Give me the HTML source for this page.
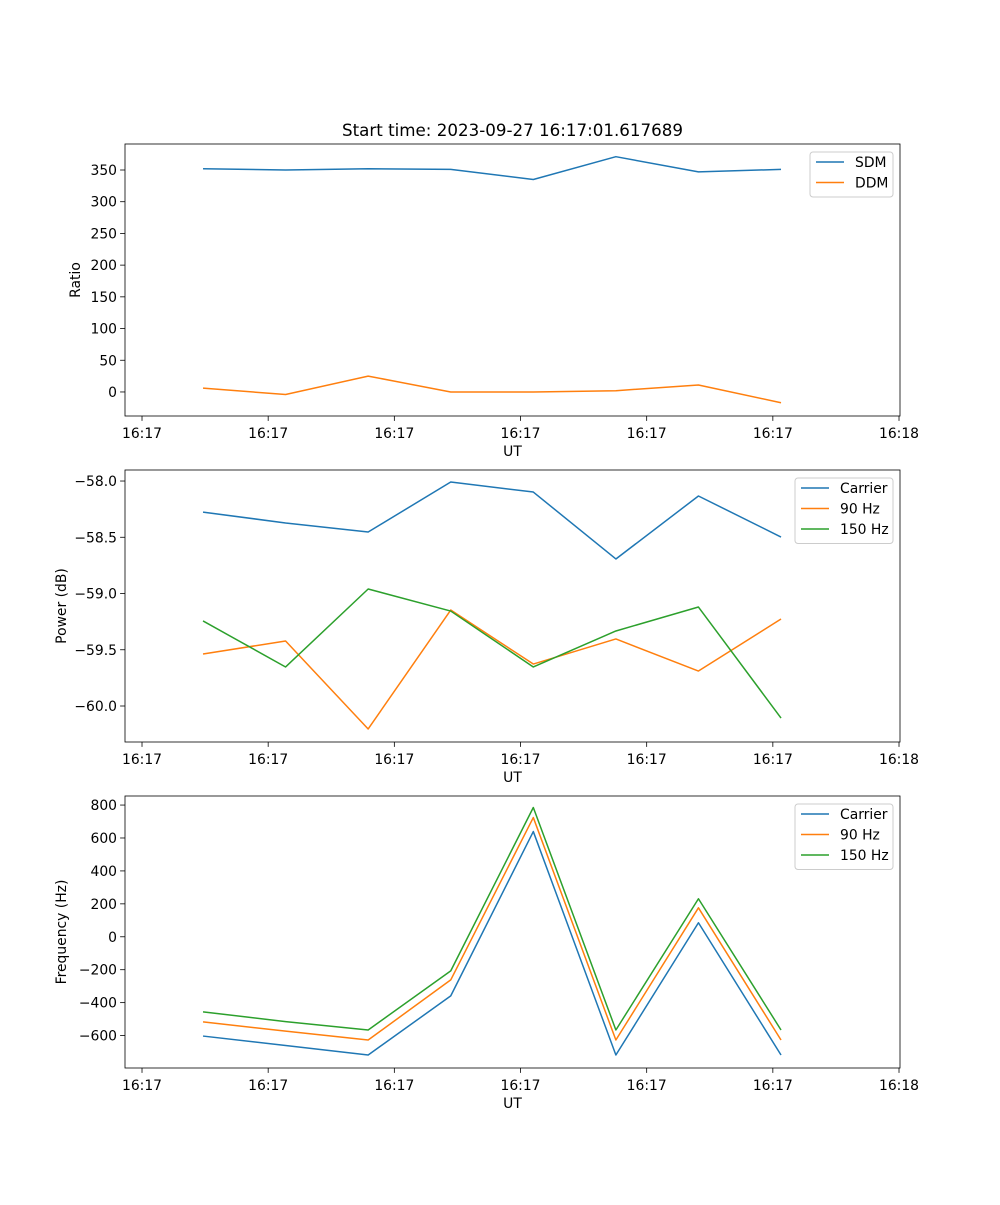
<!DOCTYPE html>
<html><head><meta charset="utf-8"><style>
body{margin:0;background:#fff}
svg{font-family:"DejaVu Sans","Liberation Sans",sans-serif;}
</style></head><body>
<svg id="fig" width="1000" height="1200" xmlns="http://www.w3.org/2000/svg">
<rect width="1000" height="1200" fill="#fff"/>
<text x="512.5" y="136" font-size="16.7" text-anchor="middle">Start time: 2023-09-27 16:17:01.617689</text>
</svg>
<script>
const xIdx=[0,1,2,3,4,5,6,7];
const xTicks=[-0.739,0.789,2.317,3.845,5.373,6.901,8.429];
const xTickLabels=["16:17","16:17","16:17","16:17","16:17","16:17","16:18"];
const sdm=[352,350,352,351,335,371,347,351];
const ddm=[6,-4,25,0,0,2,11,-17];
const pCarrier=[-58.276,-58.373,-58.453,-58.009,-58.098,-58.693,-58.133,-58.498];
const p90=[-59.538,-59.422,-60.204,-59.147,-59.627,-59.404,-59.689,-59.227];
const p150=[-59.244,-59.653,-58.96,-59.156,-59.653,-59.333,-59.12,-60.107];
const fCarrier=[-603,-660,-718,-359,639,-718,85,-718];
const f90=[-517,-573,-627,-262,724,-627,176,-627];
const f150=[-456,-515,-566,-207,785,-566,231,-566];
const yTicks1=[350,300,250,200,150,100,50,0];
const yTicks2=[-58.0,-58.5,-59.0,-59.5,-60.0];
const yTicks3=[800,600,400,200,0,-200,-400,-600];

const NS="http://www.w3.org/2000/svg";
const svg=document.getElementById('fig');
const L=125,R=900,XMIN=-0.945,XMAX=8.441;
function sx(v){return L+(v-XMIN)/(XMAX-XMIN)*(R-L);}
function el(tag,attrs,parent){const e=document.createElementNS(NS,tag);for(const k in attrs)e.setAttribute(k,attrs[k]);(parent||svg).appendChild(e);return e;}
function fmt(v,dec){let s=v.toFixed(dec);return s.replace('-','\u2212');}
function panel(name,top,bot,ymin,ymax,yt,dec,ylabel,series,legend){
  const g=el('g',{});
  
  
  const sy=v=>bot-(v-ymin)/(ymax-ymin)*(bot-top);
  xTicks.forEach((t,i)=>{const x=sx(t);
    const tk=el('line',{x1:x,x2:x,y1:bot,y2:bot+4.9,stroke:'#000','stroke-width':0.8},g);
    
    const tx=el('text',{x:x,y:bot+22,'font-size':13.9,'text-anchor':'middle'},g);tx.textContent=xTickLabels[i];
    });
  yt.forEach(v=>{const y=sy(v);
    const tk=el('line',{x1:L-4.9,x2:L,y1:y,y2:y,stroke:'#000','stroke-width':0.8},g);
    
    const tx=el('text',{x:L-8,y:y+5,'font-size':13.9,'text-anchor':'end'},g);tx.textContent=fmt(v,dec);
    });
  const xl=el('text',{x:512.5,y:bot+40,'font-size':13.9,'text-anchor':'middle'},g);xl.textContent='UT';
  
  const cy=(top+bot)/2, lx=ylabel.length>6?66:80;
  const yl=el('text',{x:lx,y:cy,'font-size':13.9,'text-anchor':'middle',transform:`rotate(-90 ${lx} ${cy})`},g);yl.textContent=ylabel;
  
  series.forEach(s=>{
    const p=el('polyline',{points:xIdx.map((x,i)=>sx(x)+','+sy(s.d[i])).join(' '),fill:'none',stroke:s.c,'stroke-width':1.5,'stroke-linejoin':'round'},g);
    
    
  });
  const fr=el('rect',{x:L,y:top,width:R-L,height:bot-top,fill:'none',stroke:'#000','stroke-width':0.8},g);
  
  const lg=el('g',{},g);
  
  
  el('rect',{x:legend.x,y:top+8,width:legend.w,height:series.length*20.5+4,rx:3,fill:'#fff',stroke:'#ccc','stroke-width':1},lg);
  series.forEach((s,i)=>{const y=top+18+i*20.5;
    el('line',{x1:legend.x+6,x2:legend.x+34,y1:y,y2:y,stroke:s.c,'stroke-width':1.5},lg);
    const t=el('text',{x:legend.x+45,y:y+5,'font-size':13.9},lg);t.textContent=s.n;
    });
}
panel('ratio-panel',144,416,-37.9,391,yTicks1,0,'Ratio',[{n:'SDM',d:sdm,c:'#1f77b4'},{n:'DDM',d:ddm,c:'#ff7f0e'}],{x:810,w:83});
panel('power-panel',470,742,-60.32,-57.902,yTicks2,1,'Power (dB)',[{n:'Carrier',d:pCarrier,c:'#1f77b4'},{n:'90 Hz',d:p90,c:'#ff7f0e'},{n:'150 Hz',d:p150,c:'#2ca02c'}],{x:795,w:98});
panel('frequency-panel',796,1068,-797,855,yTicks3,0,'Frequency (Hz)',[{n:'Carrier',d:fCarrier,c:'#1f77b4'},{n:'90 Hz',d:f90,c:'#ff7f0e'},{n:'150 Hz',d:f150,c:'#2ca02c'}],{x:795,w:98});
</script>
</body></html>
